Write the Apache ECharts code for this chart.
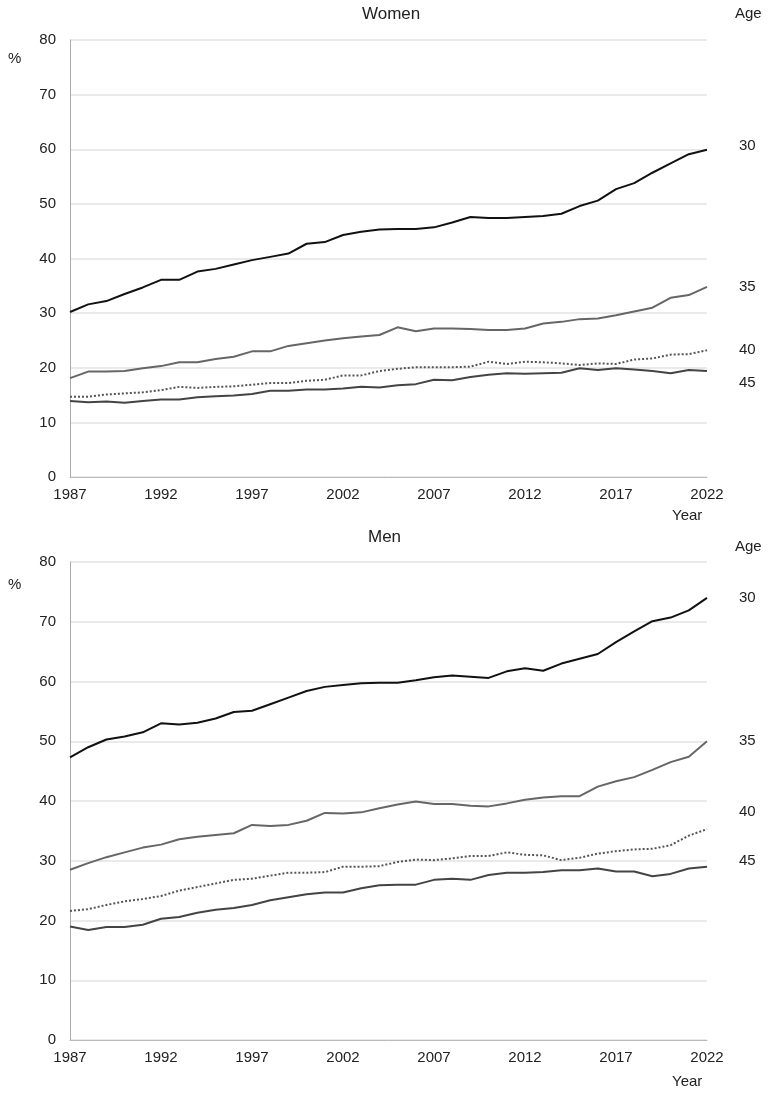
<!DOCTYPE html>
<html>
<head>
<meta charset="utf-8">
<script src="https://cdn.jsdelivr.net/npm/echarts@6/dist/echarts.min.js"></script>
<style>
  html, body { margin: 0; padding: 0; background: #fff; }
  #chart { width: 771px; height: 1094px; }
</style>
</head>
<body>
<div id="chart"></div>
<script>
var years = [];
for (var y = 1987; y <= 2022; y++) years.push(String(y));

var ages = ['30', '35', '40', '45'];

// Women
var women30 = [30.2, 31.6, 32.2, 33.5, 34.7, 36.1, 36.1, 37.6, 38.1, 38.9, 39.7, 40.3, 40.9, 42.7, 43.0, 44.3, 44.9, 45.3, 45.4, 45.4, 45.7, 46.6, 47.6, 47.4, 47.4, 47.6, 47.8, 48.2, 49.6, 50.6, 52.7, 53.8, 55.7, 57.4, 59.1, 59.9];
var women35 = [18.1, 19.3, 19.3, 19.4, 19.9, 20.3, 21.0, 21.0, 21.6, 22.0, 23.0, 23.0, 24.0, 24.5, 25.0, 25.4, 25.7, 26.0, 27.4, 26.7, 27.2, 27.2, 27.1, 26.9, 26.9, 27.2, 28.1, 28.4, 28.9, 29.0, 29.6, 30.3, 31.0, 32.8, 33.3, 34.8];
var women40 = [14.7, 14.7, 15.1, 15.3, 15.5, 15.9, 16.5, 16.3, 16.5, 16.6, 16.9, 17.2, 17.2, 17.6, 17.8, 18.6, 18.6, 19.4, 19.8, 20.1, 20.1, 20.1, 20.2, 21.1, 20.7, 21.1, 21.0, 20.8, 20.5, 20.8, 20.7, 21.5, 21.7, 22.4, 22.5, 23.2];
var women45 = [13.9, 13.7, 13.8, 13.6, 13.9, 14.2, 14.2, 14.6, 14.8, 14.9, 15.2, 15.8, 15.8, 16.0, 16.0, 16.2, 16.5, 16.4, 16.8, 17.0, 17.8, 17.7, 18.3, 18.7, 19.0, 18.9, 19.0, 19.1, 19.9, 19.6, 19.9, 19.7, 19.4, 19.0, 19.6, 19.4];

// Men
var men30 = [47.3, 49.0, 50.3, 50.8, 51.5, 53.0, 52.8, 53.1, 53.8, 54.9, 55.1, 56.2, 57.3, 58.4, 59.1, 59.4, 59.7, 59.8, 59.8, 60.2, 60.7, 61.0, 60.8, 60.6, 61.7, 62.2, 61.8, 63.0, 63.8, 64.6, 66.6, 68.4, 70.1, 70.7, 71.9, 74.0];
var men35 = [28.5, 29.6, 30.6, 31.4, 32.2, 32.7, 33.6, 34.0, 34.3, 34.6, 36.0, 35.8, 36.0, 36.7, 38.0, 37.9, 38.1, 38.8, 39.4, 39.9, 39.5, 39.5, 39.2, 39.1, 39.6, 40.2, 40.6, 40.8, 40.8, 42.4, 43.3, 44.0, 45.2, 46.5, 47.4, 50.0];
var men40 = [21.6, 21.9, 22.6, 23.2, 23.6, 24.1, 25.0, 25.6, 26.2, 26.8, 27.0, 27.5, 28.0, 28.0, 28.1, 29.0, 29.0, 29.1, 29.8, 30.2, 30.1, 30.4, 30.8, 30.8, 31.4, 31.0, 30.9, 30.1, 30.5, 31.2, 31.6, 31.9, 32.0, 32.6, 34.2, 35.3];
var men45 = [19.0, 18.4, 18.9, 18.9, 19.3, 20.3, 20.6, 21.3, 21.8, 22.1, 22.6, 23.4, 23.9, 24.4, 24.7, 24.7, 25.4, 25.9, 26.0, 26.0, 26.8, 27.0, 26.8, 27.6, 28.0, 28.0, 28.1, 28.4, 28.4, 28.7, 28.2, 28.2, 27.4, 27.8, 28.7, 29.0];

var lineStyles = [
  { color: '#111', width: 2, type: 'solid' },
  { color: '#666', width: 2, type: 'solid' },
  { color: '#555', width: 2, type: 'dotted' },
  { color: '#444', width: 2, type: 'solid' }
];
// vertical label nudges so age labels don't collide
var womenOffsets = [[0, -4], [0, 0], [0, 0], [0, 12]];
var menOffsets = [[0, 0], [0, 0], [0, -17], [0, -6]];

function mkSeries(data, idx, gridIdx, offsets) {
  return {
    type: 'line',
    name: ages[idx],
    xAxisIndex: gridIdx,
    yAxisIndex: gridIdx,
    data: data,
    symbol: 'none',
    lineStyle: lineStyles[idx],
    itemStyle: { color: lineStyles[idx].color },
    endLabel: {
      show: true,
      formatter: ages[idx],
      distance: 32,
      offset: offsets[idx],
      color: '#222',
      fontSize: 15,
      fontFamily: 'Liberation Sans'
    },
    silent: true
  };
}

function xAxis(gridIdx) {
  return {
    type: 'category', gridIndex: gridIdx, data: years, boundaryGap: false,
    axisLine: { lineStyle: { color: '#bbb' } },
    axisTick: { show: false },
    axisLabel: { interval: 4, color: '#222', fontSize: 15, margin: 10, fontFamily: 'Liberation Sans' },
    splitLine: { show: false }
  };
}
function yAxis(gridIdx) {
  return {
    type: 'value', gridIndex: gridIdx, min: 0, max: 80, interval: 10,
    axisLine: { show: true, lineStyle: { color: '#aaa' } },
    axisTick: { show: false },
    axisLabel: { color: '#222', fontSize: 15, margin: 14, fontFamily: 'Liberation Sans' },
    splitLine: { lineStyle: { color: '#e3e3e3', width: 1.5 } }
  };
}

function txt(x, y, s, size) {
  return { type: 'text', left: x, top: y, style: { text: s, fill: '#222', font: (size || 15) + 'px "Liberation Sans"' } };
}

var chart = echarts.init(document.getElementById('chart'));
chart.setOption({
  animation: false,
  backgroundColor: '#fff',
  grid: [
    { left: 70, right: 64, top: 40, height: 437 },
    { left: 70, right: 64, top: 562, height: 478 }
  ],
  xAxis: [xAxis(0), xAxis(1)],
  yAxis: [yAxis(0), yAxis(1)],
  graphic: [
    txt(362, 6, 'Women', 17),
    txt(368, 529, 'Men', 17),
    txt(8, 51, '%'),
    txt(8, 577, '%'),
    txt(735, 6, 'Age'),
    txt(735, 539, 'Age'),
    txt(672, 508, 'Year'),
    txt(672, 1074, 'Year')
  ],
  series: [
    mkSeries(women30, 0, 0, womenOffsets),
    mkSeries(women35, 1, 0, womenOffsets),
    mkSeries(women40, 2, 0, womenOffsets),
    mkSeries(women45, 3, 0, womenOffsets),
    mkSeries(men30, 0, 1, menOffsets),
    mkSeries(men35, 1, 1, menOffsets),
    mkSeries(men40, 2, 1, menOffsets),
    mkSeries(men45, 3, 1, menOffsets)
  ]
});
</script>
</body>
</html>
